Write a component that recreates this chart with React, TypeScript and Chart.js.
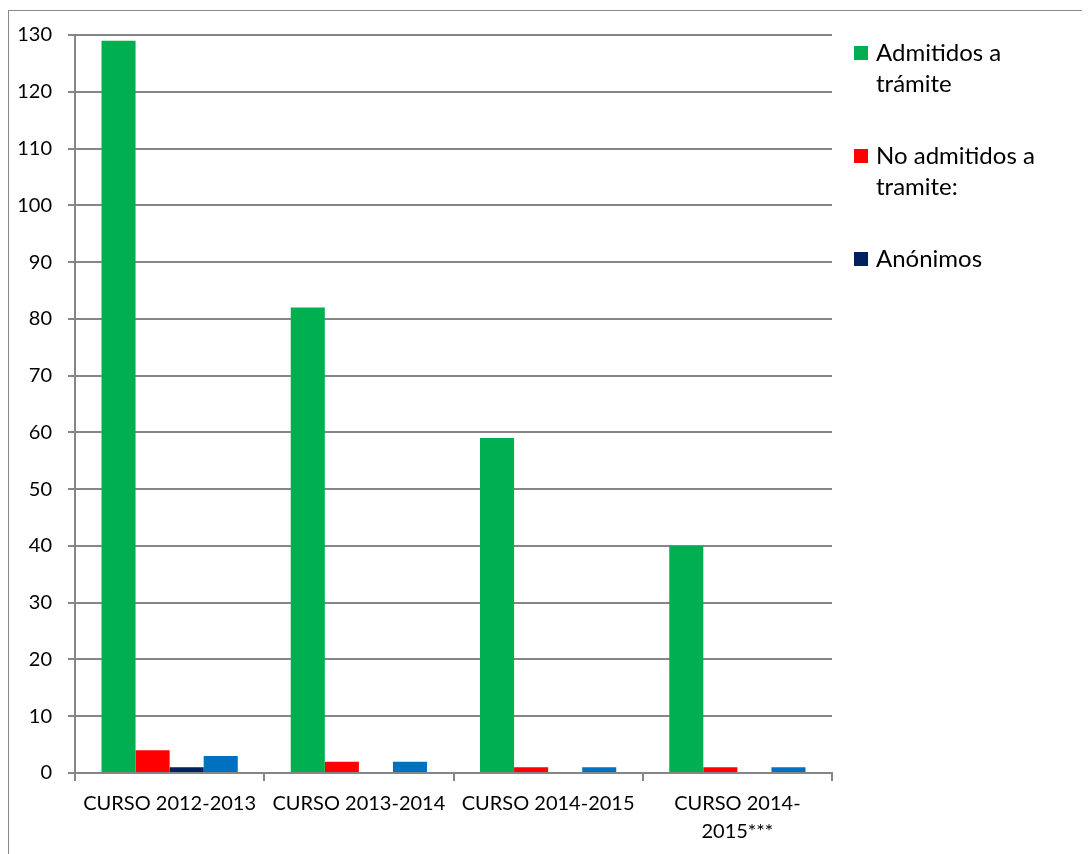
import React, { useEffect, useRef } from "react";
import { Chart, registerables } from "chart.js";

Chart.register(...registerables);

const categories: (string | string[])[] = [
  "CURSO 2012-2013",
  "CURSO 2013-2014",
  "CURSO 2014-2015",
  ["CURSO 2014-", "2015***"],
];
const admitidos = [129, 82, 59, 40];
const noAdmitidos = [4, 2, 1, 1];
const anonimos = [1, 0, 0, 0];
const otros = [3, 2, 1, 1];
const legendLines: string[][] = [
  ["Admitidos a", "trámite"],
  ["No admitidos a", "tramite:"],
  ["Anónimos"],
];
const legendColors = ["#00B050", "#FF0000", "#002060"];

const FONT = "Lato, 'Open Sans', sans-serif";

export default function App() {
  const ref = useRef<HTMLCanvasElement | null>(null);
  useEffect(() => {
    if (!ref.current) return;
    const legendPlugin = {
      id: "sideLegend",
      afterDraw(chart: any) {
        const ctx = chart.ctx;
        ctx.save();
        ctx.font = `24px ${FONT}`;
        ctx.textBaseline = "middle";
        const blocks = [42, 145, 248];
        const lineH = 31;
        legendLines.forEach((lines, i) => {
          const y0 = blocks[i];
          ctx.fillStyle = legendColors[i];
          ctx.fillRect(845, y0 - 7, 14, 14);
          ctx.fillStyle = "#000";
          lines.forEach((t, j) => ctx.fillText(t, 867, y0 + j * lineH));
        });
        ctx.restore();
      },
    };
    const chart = new Chart(ref.current, {
      type: "bar",
      data: {
        labels: categories as any,
        datasets: [
          { label: "Admitidos a trámite", data: admitidos, backgroundColor: "#00B050" },
          { label: "No admitidos a tramite:", data: noAdmitidos, backgroundColor: "#FF0000" },
          { label: "Anónimos", data: anonimos, backgroundColor: "#002060" },
          { label: "", data: otros, backgroundColor: "#0070C0" },
        ],
      },
      options: {
        animation: false,
        responsive: false,
        maintainAspectRatio: false,
        layout: { padding: { left: 0, top: 24, right: 267, bottom: 0 } },
        datasets: { bar: { categoryPercentage: 0.72, barPercentage: 1 } },
        plugins: { legend: { display: false }, tooltip: { enabled: false } },
        scales: {
          x: {
            grid: {
              offset: true,
              drawOnChartArea: false,
              drawTicks: true,
              tickLength: 8,
              color: "#868686",
              lineWidth: 2,
            },
            border: { color: "#868686", width: 2 },
            ticks: {
              color: "#000",
              font: { family: FONT, size: 20, lineHeight: 1.4 },
              padding: 9,
              maxRotation: 0,
              autoSkip: false,
            },
            afterFit(scale: any) {
              scale.height = 81;
              scale.paddingLeft = 0;
              scale.paddingRight = 0;
            },
          },
          y: {
            min: 0,
            max: 130,
            ticks: {
              stepSize: 10,
              color: "#000",
              font: { family: FONT, size: 20 },
              padding: 16,
            },
            grid: { color: "#868686", lineWidth: 2, tickLength: 7 },
            border: { color: "#868686", width: 2 },
            afterFit(scale: any) {
              scale.width = 66;
              scale.paddingTop = 0;
              scale.paddingBottom = 0;
            },
          },
        },
      },
      plugins: [legendPlugin],
    });
    return () => chart.destroy();
  }, []);
  return (
    <div
      style={{
        marginTop: 2,
        border: "1px solid #898989",
        width: 1090,
        height: 860,
        background: "#fff",
      }}
    >
      <canvas ref={ref} width={1090} height={843} style={{ display: "block" }} />
    </div>
  );
}
